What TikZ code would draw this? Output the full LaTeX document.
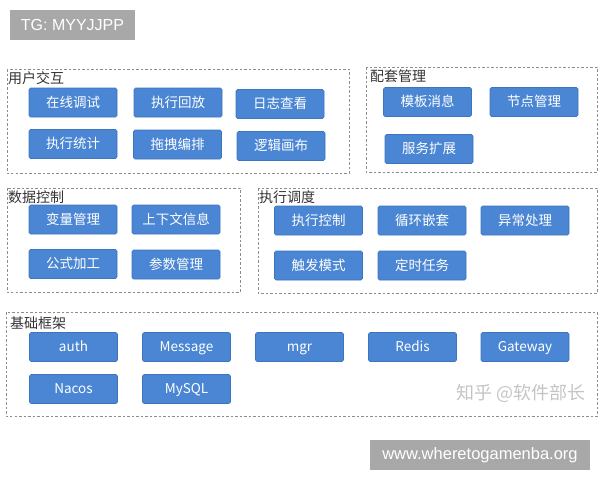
\documentclass[tikz,border=0pt]{standalone}
\usepackage{fontspec}
\setmainfont{Liberation Sans}
\newfontfamily\cjk{Noto Sans CJK SC}
\definecolor{boxblue}{HTML}{4A86D3}
\definecolor{boxedge}{HTML}{3C74BD}
\definecolor{dashgrey}{HTML}{8C8C8C}
\definecolor{titlegrey}{HTML}{333333}
\definecolor{taggrey}{HTML}{A8A8A8}
\definecolor{wmgrey}{HTML}{C4C4C4}
\begin{document}
\begin{tikzpicture}[x=1pt,y=-1pt,
  bx/.style={draw=boxedge,fill=boxblue,rounded corners=1.5pt,line width=0.6pt,
    minimum width=88pt,minimum height=29pt,inner sep=0pt,text=white,
    text height=11.6pt,text depth=1.9pt,
    font=\cjk\fontsize{13.5}{15}\selectfont},
  grp/.style={draw=dashgrey,dashed,dash pattern=on 2.5pt off 2pt,line width=0.7pt},
  ttl/.style={anchor=west,inner sep=0pt,text=titlegrey,font=\cjk\fontsize{14}{15}\selectfont},
  tag/.style={fill=taggrey,text=white,inner sep=0pt,font=\fontsize{16}{18}\selectfont}]
\useasboundingbox (0,0) rectangle (600,480);
% top tag
\node[tag,minimum width=125pt,minimum height=30pt] (tg) at (72.5,25) {TG: MYYJJPP};
% groups
\draw[grp] (7,69) rectangle (349,173);
\draw[grp] (366,67) rectangle (597,172);
\draw[grp] (7,188) rectangle (240,292);
\draw[grp] (258,188) rectangle (597,293);
\draw[grp] (6,312) rectangle (597,416);
% titles
\node[ttl] (t1) at (8,78) {用户交互};
\node[ttl] (t2) at (370,76) {配套管理};
\node[ttl] (t3) at (8,197) {数据控制};
\node[ttl] (t4) at (259,197) {执行调度};
\node[ttl] (t5) at (10,323) {基础框架};
% group 1
\node[bx] (a1) at (73,102.5) {在线调试};
\node[bx] (a2) at (178,102.5) {执行回放};
\node[bx] (a3) at (280,104) {日志查看};
\node[bx] (a4) at (73,144) {执行统计};
\node[bx] (a5) at (177.5,144.5) {拖拽编排};
\node[bx] (a6) at (281,146) {逻辑画布};
% group 2
\node[bx] (b1) at (427.5,102) {模板消息};
\node[bx] (b2) at (534,102) {节点管理};
\node[bx] (b3) at (429,149) {服务扩展};
% group 3
\node[bx] (c1) at (73,219.5) {变量管理};
\node[bx] (c2) at (176,219.5) {上下文信息};
\node[bx] (c3) at (73,264) {公式加工};
\node[bx] (c4) at (176,264.5) {参数管理};
% group 4
\node[bx] (d1) at (318.5,220.5) {执行控制};
\node[bx] (d2) at (422,220.5) {循环嵌套};
\node[bx] (d3) at (525,220.5) {异常处理};
\node[bx] (d4) at (318.5,265.5) {触发模式};
\node[bx] (d5) at (422,265.5) {定时任务};
% group 5
\node[bx] (e1) at (73.5,347) {auth};
\node[bx] (e2) at (186.5,347) {Message};
\node[bx] (e3) at (299.5,347) {mgr};
\node[bx] (e4) at (412.5,347) {Redis};
\node[bx] (e5) at (525,347) {Gateway};
\node[bx] (e6) at (73.5,389) {Nacos};
\node[bx] (e7) at (186.5,389) {MySQL};
% watermark
\node[inner sep=0pt,text=wmgrey,font=\cjk\fontsize{18}{20}\selectfont] (wm) at (521,393) {知乎 @软件部长};
% bottom tag
\node[tag,minimum width=220pt,minimum height=30pt,font=\fontsize{16.5}{18}\selectfont] (www) at (480,455) {www.wheretogamenba.org};
\end{tikzpicture}
\end{document}
